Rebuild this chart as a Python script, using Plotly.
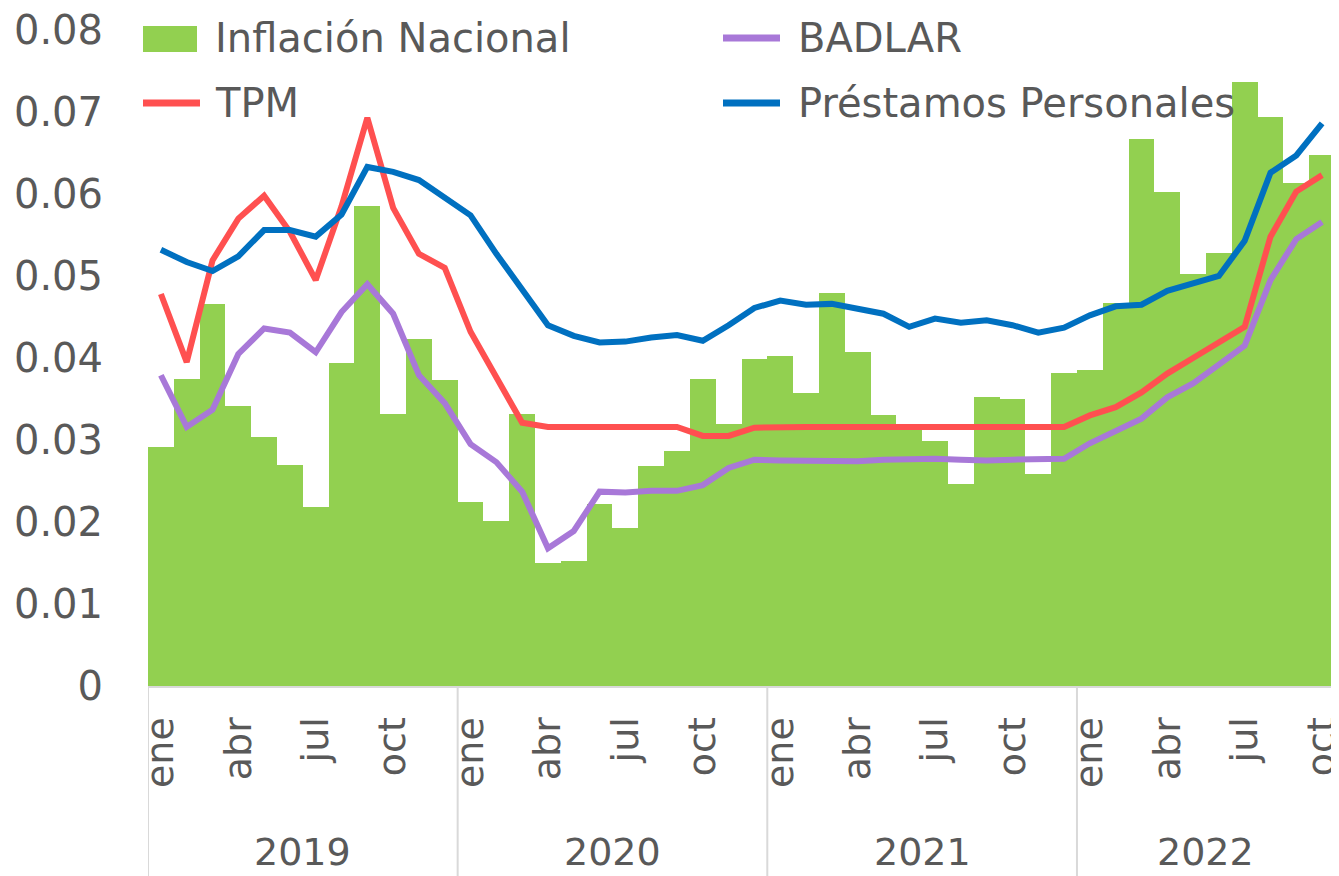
import plotly.graph_objects as go

# Monthly data, ene 2019 - oct 2022
years = ["2019", "2020", "2021", "2022"]
meses = ["ene", "feb", "mar", "abr", "may", "jun", "jul", "ago", "sep", "oct", "nov", "dic"]
periodos = [f"{m} {y}" for y in years for m in meses][:46]

inflacion = [0.0292, 0.0375, 0.0466, 0.0342, 0.0304, 0.0270, 0.0218, 0.0394, 0.0585, 0.0332, 0.0423, 0.0373,
             0.0225, 0.0201, 0.0332, 0.0150, 0.0153, 0.0222, 0.0193, 0.0268, 0.0286, 0.0374, 0.0319, 0.0399,
             0.0403, 0.0357, 0.0479, 0.0407, 0.0331, 0.0320, 0.0299, 0.0246, 0.0353, 0.0350, 0.0259, 0.0382,
             0.0385, 0.0467, 0.0667, 0.0602, 0.0503, 0.0528, 0.0737, 0.0694, 0.0614, 0.0648]

tpm = [0.0478, 0.0395, 0.0519, 0.0570, 0.0598, 0.0554, 0.0495, 0.0585, 0.0693, 0.0583, 0.0527, 0.0510,
       0.0432, 0.0377, 0.0321, 0.0316, 0.0316, 0.0316, 0.0316, 0.0316, 0.0316, 0.0305, 0.0305, 0.0315,
       0.0316, 0.0316, 0.0316, 0.0316, 0.0316, 0.0316, 0.0316, 0.0316, 0.0316, 0.0316, 0.0316, 0.0316,
       0.0330, 0.0340, 0.0358, 0.0381, 0.0400, 0.0418, 0.0438, 0.0548, 0.0603, 0.0623]

badlar = [0.0379, 0.0316, 0.0337, 0.0405, 0.0436, 0.0431, 0.0407, 0.0456, 0.0490, 0.0454, 0.0379, 0.0345,
          0.0295, 0.0273, 0.0237, 0.0168, 0.0189, 0.0237, 0.0236, 0.0238, 0.0238, 0.0245, 0.0266, 0.0276,
          0.0275, 0.0275, 0.0275, 0.0274, 0.0276, 0.0277, 0.0277, 0.0276, 0.0275, 0.0276, 0.0276, 0.0277,
          0.0296, 0.0311, 0.0326, 0.0352, 0.0369, 0.0392, 0.0415, 0.0495, 0.0545, 0.0566]

prestamos = [0.0532, 0.0517, 0.0506, 0.0524, 0.0556, 0.0556, 0.0548, 0.0575, 0.0633, 0.0627, 0.0617, 0.0596,
             0.0574, 0.0527, 0.0482, 0.0440, 0.0427, 0.0419, 0.0420, 0.0425, 0.0428, 0.0421, 0.0440, 0.0461,
             0.0470, 0.0465, 0.0466, 0.0460, 0.0454, 0.0438, 0.0448, 0.0443, 0.0446, 0.0440, 0.0431, 0.0437,
             0.0452, 0.0463, 0.0465, 0.0482, 0.0491, 0.0500, 0.0543, 0.0626, 0.0647, 0.0686]

meses_rotulo = ["ene", "abr", "jul", "oct"]
y_ticks = [0, 0.01, 0.02, 0.03, 0.04, 0.05, 0.06, 0.07, 0.08]
y_ticktext = ["0", "0.01", "0.02", "0.03", "0.04", "0.05", "0.06", "0.07", "0.08"]

FONT = "DejaVu Sans"
GRIS = "#595959"
VERDE = "#92D050"
ROJO = "#FF5050"
VIOLETA = "#A878D8"
AZUL = "#0070C0"

# the page body has an 8px margin, so the figure is made 8px smaller
OFF = 8
W, H = 1339 - OFF, 876 - OFF
ML, MR, MT, MB = 148 - OFF, 4, 30 - OFF, 190
PW, PH = W - ML - MR, H - MT - MB


def px(x):
    # page pixel -> paper x
    return (x - OFF - ML) / PW


def py(y):
    # page pixel -> paper y
    return (H + OFF - MB - y) / PH


fig = go.Figure()

fig.add_trace(go.Bar(
    x=periodos, y=inflacion, name="Inflación Nacional",
    marker=dict(color=VERDE, line=dict(width=0))
))
fig.add_trace(go.Scatter(
    x=periodos, y=badlar, name="BADLAR", mode="lines",
    line=dict(color=VIOLETA, width=6)
))
fig.add_trace(go.Scatter(
    x=periodos, y=tpm, name="TPM", mode="lines",
    line=dict(color=ROJO, width=6)
))
fig.add_trace(go.Scatter(
    x=periodos, y=prestamos, name="Préstamos Personales", mode="lines",
    line=dict(color=AZUL, width=6)
))

# month tick labels (every third month)
tick_vals = [p for p in periodos if p.split()[0] in meses_rotulo]
tick_text = [p.split()[0] for p in tick_vals]

# year labels and separators under the axis
n_por_anio = [12, 12, 12, 10]
inicio = 0
for y, n in zip(years, n_por_anio):
    fig.add_annotation(
        x=inicio + (n - 1) / 2, y=py(852), xref="x", yref="paper",
        text=y, showarrow=False, yanchor="middle",
        font=dict(family=FONT, size=38, color=GRIS)
    )
    fig.add_shape(type="line", xref="x", yref="paper",
                  x0=inicio - 0.5, x1=inicio - 0.5, y0=0, y1=py(876),
                  line=dict(color="#D9D9D9", width=2))
    inicio += n
fig.add_shape(type="line", xref="x", yref="paper",
              x0=inicio - 0.5, x1=inicio - 0.5, y0=0, y1=py(876),
              line=dict(color="#D9D9D9", width=2))

# legend (two columns, two rows) drawn with shapes + text
fig.add_shape(type="rect", xref="paper", yref="paper",
              x0=px(143), x1=px(197), y0=py(52), y1=py(26),
              fillcolor=VERDE, line=dict(width=0))
leyenda_lineas = [
    ("TPM", ROJO, 143, 103),
    ("BADLAR", VIOLETA, 723, 38),
    ("Préstamos Personales", AZUL, 723, 103),
]
for nombre, color, x0, yy in leyenda_lineas:
    fig.add_shape(type="line", xref="paper", yref="paper",
                  x0=px(x0), x1=px(x0 + 57), y0=py(yy), y1=py(yy),
                  line=dict(color=color, width=7))
leyenda_textos = [
    ("Inflación Nacional", 213, 38),
    ("TPM", 213, 103),
    ("BADLAR", 796, 38),
    ("Préstamos Personales", 796, 103),
]
for texto, x0, yy in leyenda_textos:
    fig.add_annotation(
        x=px(x0), y=py(yy), xref="paper", yref="paper",
        text=texto, showarrow=False, xanchor="left", yanchor="middle",
        font=dict(family=FONT, size=40, color=GRIS)
    )

fig.update_layout(
    width=W, height=H,
    margin=dict(l=ML, r=MR, t=MT, b=MB),
    plot_bgcolor="white", paper_bgcolor="white",
    bargap=0,
    showlegend=False,
    font=dict(family=FONT, size=38, color=GRIS),
    xaxis=dict(
        type="category", tickmode="array", tickvals=tick_vals, ticktext=tick_text,
        tickangle=-90, showgrid=False, showline=True, linecolor="#D9D9D9", linewidth=2,
        ticks="", ticklabelstandoff=14, tickfont=dict(family=FONT, size=38, color=GRIS),
        range=[-0.5, 45.5], automargin=False, ticklabeloverflow="allow"
    ),
    yaxis=dict(
        range=[0, 0.08], tickmode="array", tickvals=y_ticks, ticktext=y_ticktext,
        showgrid=False, zeroline=False, showline=False,
        ticks="", ticklabelstandoff=44, tickfont=dict(family=FONT, size=40, color=GRIS),
        automargin=False, ticklabeloverflow="allow"
    ),
)

fig.write_html("out.html")
